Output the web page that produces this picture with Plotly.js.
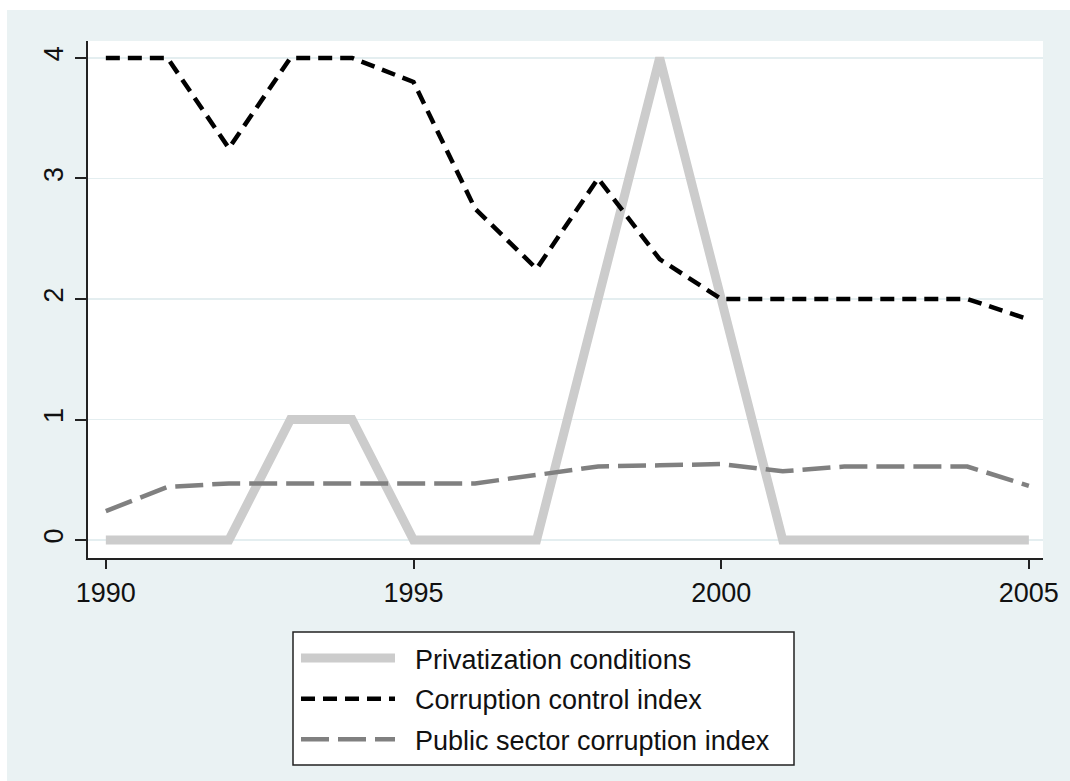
<!DOCTYPE html>
<html><head><meta charset="utf-8">
<script src="https://cdn.plot.ly/plotly-3.0.1.min.js"></script>
<style>
html,body{margin:0;padding:0;background:#ffffff;}
#chart{position:absolute;left:7px;top:10px;width:1063px;height:771px;}
</style>
</head><body>
<div id="chart"></div>
<script>
const years = [1990,1991,1992,1993,1994,1995,1996,1997,1998,1999,2000,2001,2002,2003,2004,2005];
const privatization = [0,0,0,1,1,0,0,0,2,4,2,0,0,0,0,0];
const corruptionControl = [4,4,3.25,4,4,3.8,2.75,2.25,3,2.33,2,2,2,2,2,1.83];
const publicSector = [0.24,0.44,0.47,0.47,0.47,0.47,0.47,0.54,0.61,0.62,0.63,0.57,0.61,0.61,0.61,0.45];
const seriesNames = ["Privatization conditions","Corruption control index","Public sector corruption index"];
const xTicks = [1990,1995,2000,2005];
const yTicks = [0,1,2,3,4];

const font = {family:"Liberation Sans, Arial, sans-serif", size:27, color:"#111111"};
const pad = "\u00a0\u00a0";

const traces = [
  {x:years, y:privatization, name:pad+seriesNames[0], type:"scatter", mode:"lines",
   line:{color:"#cccccc", width:9}, legendgroup:"a"},
  {x:years, y:corruptionControl, name:pad+seriesNames[1], type:"scatter", mode:"lines",
   line:{color:"#000000", width:4.5, dash:"14px,8px"}, legendgroup:"b"},
  {x:years, y:publicSector, name:pad+seriesNames[2], type:"scatter", mode:"lines",
   line:{color:"#808080", width:4.5, dash:"28px,9px"}, legendgroup:"c"}
];

const layout = {
  width:1063, height:771,
  paper_bgcolor:"#eaf2f3", plot_bgcolor:"#ffffff",
  margin:{l:81, r:27, t:31, b:223},
  font:font,
  showlegend:true,
  xaxis:{range:[1989.71,2005.23], tickvals:xTicks, ticktext:xTicks.map(String),
    showgrid:false, zeroline:false, showline:true, linecolor:"#222222", linewidth:2,
    ticks:"outside", ticklen:9, tickwidth:2, tickcolor:"#222222",
    tickfont:font, ticklabelstandoff:1},
  yaxis:{range:[-0.149,4.14], tickvals:yTicks, ticktext:yTicks.map(String),
    showgrid:true, gridcolor:"#e4eef0", gridwidth:1.5, zeroline:false,
    showline:true, linecolor:"#222222", linewidth:2,
    ticks:"outside", ticklen:11, tickwidth:2, tickcolor:"#222222",
    tickangle:-90, tickfont:font, ticklabelstandoff:1},
  legend:{x:0.2178, xanchor:"left", y:-0.147, yanchor:"top",
    bgcolor:"rgba(0,0,0,0)", borderwidth:0,
    font:font, itemwidth:94, tracegroupgap:2.5, traceorder:"grouped"},
  shapes:[{type:"rect", xref:"paper", yref:"paper", layer:"above",
    x0:0.21466, x1:0.73927, y0:-0.14313, y1:-0.40039,
    fillcolor:"#ffffff", line:{color:"#222222", width:1.5}}]
};

Plotly.newPlot("chart", traces, layout, {displayModeBar:false, staticPlot:true});
</script>
</body></html>
